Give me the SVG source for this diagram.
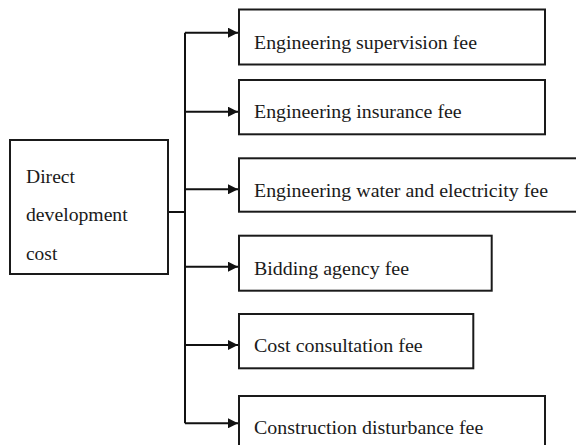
<svg xmlns="http://www.w3.org/2000/svg" width="576" height="445" viewBox="0 0 576 445">
<defs>
<marker id="arr" markerWidth="10" markerHeight="10" refX="10" refY="5" orient="auto" markerUnits="userSpaceOnUse">
<path d="M0,0 L10,5 L0,10 Z" fill="#111"/>
</marker>
<style>
.box{fill:#fff;stroke:#1a1a1a;stroke-width:2}
.lbl{font-family:"Liberation Serif","Times New Roman",serif;font-size:18px;fill:#1a1a1a}
.con{fill:none;stroke:#111;stroke-width:2}
</style>
</defs>
<rect width="576" height="445" fill="#fff"/>
<g id="connectors">
<path class="con" d="M168,212 H185"/>
<path class="con" d="M185,32.7 V423.3"/>
<path class="con" d="M185,32.7 H238" marker-end="url(#arr)"/>
<path class="con" d="M185,111.7 H238" marker-end="url(#arr)"/>
<path class="con" d="M185,189.3 H238" marker-end="url(#arr)"/>
<path class="con" d="M185,266.7 H238" marker-end="url(#arr)"/>
<path class="con" d="M185,345 H238" marker-end="url(#arr)"/>
<path class="con" d="M185,423.3 H238" marker-end="url(#arr)"/>
</g>
<g id="n0">
<rect class="box" x="10" y="140" width="158" height="134"/>
<text class="lbl" x="26" y="182.7" textLength="49" lengthAdjust="spacingAndGlyphs">Direct</text>
<text class="lbl" x="26" y="221" textLength="101.7" lengthAdjust="spacingAndGlyphs">development</text>
<text class="lbl" x="26" y="260" textLength="31.3" lengthAdjust="spacingAndGlyphs">cost</text>
</g>
<g id="n1">
<rect class="box" x="239" y="9.5" width="306" height="55"/>
<text class="lbl" x="254" y="49.3" textLength="223" lengthAdjust="spacingAndGlyphs">Engineering supervision fee</text>
</g>
<g id="n2">
<rect class="box" x="239" y="80" width="306" height="54.3"/>
<text class="lbl" x="254" y="118.3" textLength="207.7" lengthAdjust="spacingAndGlyphs">Engineering insurance fee</text>
</g>
<g id="n3">
<rect class="box" x="239" y="158.3" width="345" height="53.4"/>
<text class="lbl" x="254" y="196.7" textLength="294" lengthAdjust="spacingAndGlyphs">Engineering water and electricity fee</text>
</g>
<g id="n4">
<rect class="box" x="239" y="235.7" width="252.7" height="55"/>
<text class="lbl" x="254" y="275" textLength="155" lengthAdjust="spacingAndGlyphs">Bidding agency fee</text>
</g>
<g id="n5">
<rect class="box" x="239" y="314" width="234.3" height="54.3"/>
<text class="lbl" x="254" y="352.3" textLength="168.7" lengthAdjust="spacingAndGlyphs">Cost consultation fee</text>
</g>
<g id="n6">
<rect class="box" x="239" y="396" width="306" height="60"/>
<text class="lbl" x="254" y="434.3" textLength="229.3" lengthAdjust="spacingAndGlyphs">Construction disturbance fee</text>
</g>
</svg>
